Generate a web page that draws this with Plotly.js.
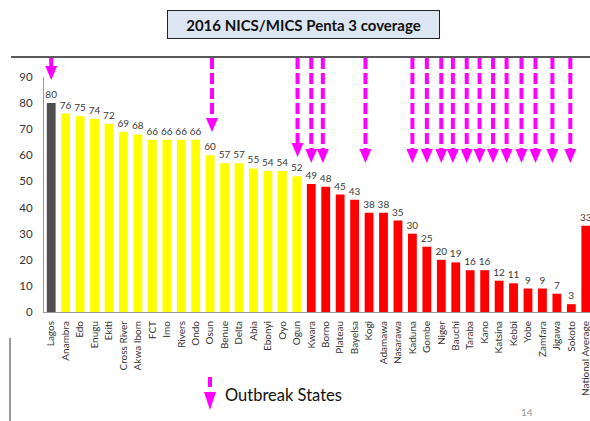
<!DOCTYPE html>
<html>
<head>
<meta charset="utf-8">
<script src="https://cdn.plot.ly/plotly-3.0.1.min.js"></script>
<style>
  html, body { margin: 0; padding: 0; background: #fff; overflow: hidden; }
  #chart { width: 593px; height: 421px; }
</style>
</head>
<body>
<div id="chart"></div>
<script>
// ---- data ----
var states = ["Lagos","Anambra","Edo","Enugu","Ekiti","Cross River","Akwa Ibom","FCT","Imo","Rivers","Ondo","Osun","Benue","Delta","Abia","Ebonyi","Oyo","Ogun","Kwara","Borno","Plateau","Bayelsa","Kogi","Adamawa","Nasarawa","Kaduna","Gombe","Niger","Bauchi","Taraba","Kano","Katsina","Kebbi","Yobe","Zamfara","Jigawa","Sokoto","National Average"];
var coverage = [80,76,75,74,72,69,68,66,66,66,66,60,57,57,55,54,54,52,49,48,45,43,38,38,35,30,25,20,19,16,16,12,11,9,9,7,3,33];
var outbreakStates = ["Lagos","Osun","Ogun","Kwara","Borno","Kogi","Kaduna","Gombe","Niger","Bauchi","Taraba","Kano","Katsina","Kebbi","Yobe","Zamfara","Jigawa","Sokoto"];
var yTicks = [0,10,20,30,40,50,60,70,80,90];
var titleText = "2016 NICS/MICS Penta 3 coverage";
var legendText = "Outbreak States";
var pageNumber = "14";

// ---- styling / layout helpers ----
var FONT = "Lato, 'Open Sans', sans-serif";
var MAG = "#ff00ff";
var lastYellow = states.indexOf("Ogun");
var colors = states.map(function (s, i) {
  if (i === 0) return "#4f4f4f";
  if (i <= lastYellow) return "#ffff00";
  return "#ff0000";
});

var W = 593, H = 421, ML = 44, MR = 0, MT = 77, MB = 109;
var PW = W - ML - MR, PH = H - MT - MB;
function xp(px) { return (px - ML) / PW; }
function yp(py) { return (H - MB - py) / PH; }

// hand-placed arrow nudges (category units) and tip heights (pixels)
var arrowShift = {"Osun":0.13,"Ogun":0.05,"Borno":-0.2,"Kogi":-0.25,"Bauchi":-0.2,"Taraba":-0.24,"Kano":-0.35,"Katsina":-0.42,"Kebbi":-0.48,"Yobe":-0.45,"Zamfara":-0.48,"Jigawa":-0.31,"Sokoto":-0.07};
var arrowTip = {"Lagos":80,"Osun":132,"Ogun":157};

var shapes = [];
// top rule
shapes.push({type:"line", xref:"paper", yref:"paper", x0:xp(11), x1:xp(592), y0:yp(57), y1:yp(57), line:{color:"#222", width:1.5}});
// left rule bottom
shapes.push({type:"line", xref:"paper", yref:"paper", x0:xp(10), x1:xp(10), y0:yp(338), y1:yp(421), line:{color:"#777", width:1.5}});

outbreakStates.forEach(function (s) {
  var idx = states.indexOf(s) + (arrowShift[s] || 0);
  var tip = arrowTip[s] || 163;
  shapes.push({type:"line", xref:"x", yref:"paper", x0:idx, x1:idx, y0:yp(58), y1:yp(tip - 8),
    line:{color:MAG, width:4, dash:"11px,4px"}});
  shapes.push({type:"path", xref:"x", yref:"paper", xsizemode:"pixel", ysizemode:"pixel",
    xanchor:idx, yanchor:yp(tip), path:"M-6,14L6,14L0,0Z",
    fillcolor:MAG, line:{color:MAG, width:0}});
});

// legend arrow
shapes.push({type:"line", xref:"paper", yref:"paper", x0:xp(210), x1:xp(210), y0:yp(377), y1:yp(387), line:{color:MAG, width:4}});
shapes.push({type:"path", xref:"paper", yref:"paper", xsizemode:"pixel", ysizemode:"pixel",
  xanchor:xp(210), yanchor:yp(410), path:"M-6,18L6,18L0,0Z", fillcolor:MAG, line:{color:MAG, width:0}});

var annotations = [
  {xref:"paper", yref:"paper", x:xp(303.5), y:yp(24.5), xanchor:"center", yanchor:"middle",
   text:"<b>" + titleText + "</b>", showarrow:false, width:271, height:27,
   bgcolor:"#dce6f2", bordercolor:"#222", borderwidth:1, borderpad:0,
   font:{family:FONT, size:15, color:"#111"}},
  {xref:"paper", yref:"paper", x:xp(223), y:yp(395), xanchor:"left", yanchor:"middle",
   text:legendText, showarrow:false, font:{family:FONT, size:16.5, color:"#111"}},
  {xref:"paper", yref:"paper", x:xp(527), y:yp(412), xanchor:"center", yanchor:"middle",
   text:pageNumber, showarrow:false, font:{family:FONT, size:10, color:"#999"}}
];

var labelFont = {family:FONT, size:10, color:"#3a3a3a"};
var trace = {
  type:"bar", x:states, y:coverage,
  marker:{color:colors},
  text:coverage.map(String), textposition:"outside", cliponaxis:false,
  textfont:labelFont, outsidetextfont:labelFont, constraintext:"none",
  hoverinfo:"x+y"
};

var layout = {
  width:W, height:H,
  margin:{l:ML, r:MR, t:MT, b:MB, pad:0},
  paper_bgcolor:"#fff", plot_bgcolor:"#fff",
  showlegend:false, bargap:0.39,
  xaxis:{type:"category", tickangle:-90, showgrid:false, zeroline:false,
    showline:true, linecolor:"#999", linewidth:1, ticks:"",
    tickfont:{family:FONT, size:10, color:"#333"}, ticklabelstandoff:4,
    range:[-0.5, states.length - 0.5], fixedrange:true},
  yaxis:{range:[0,90], tickvals:yTicks, ticktext:yTicks.map(String), showgrid:false, zeroline:false,
    showline:true, linecolor:"#999", linewidth:1, ticks:"",
    tickfont:{family:FONT, size:11.5, color:"#333"}, ticklabelstandoff:8, fixedrange:true},
  shapes:shapes, annotations:annotations
};

Plotly.newPlot("chart", [trace], layout, {displayModeBar:false, staticPlot:true});
</script>
</body>
</html>
